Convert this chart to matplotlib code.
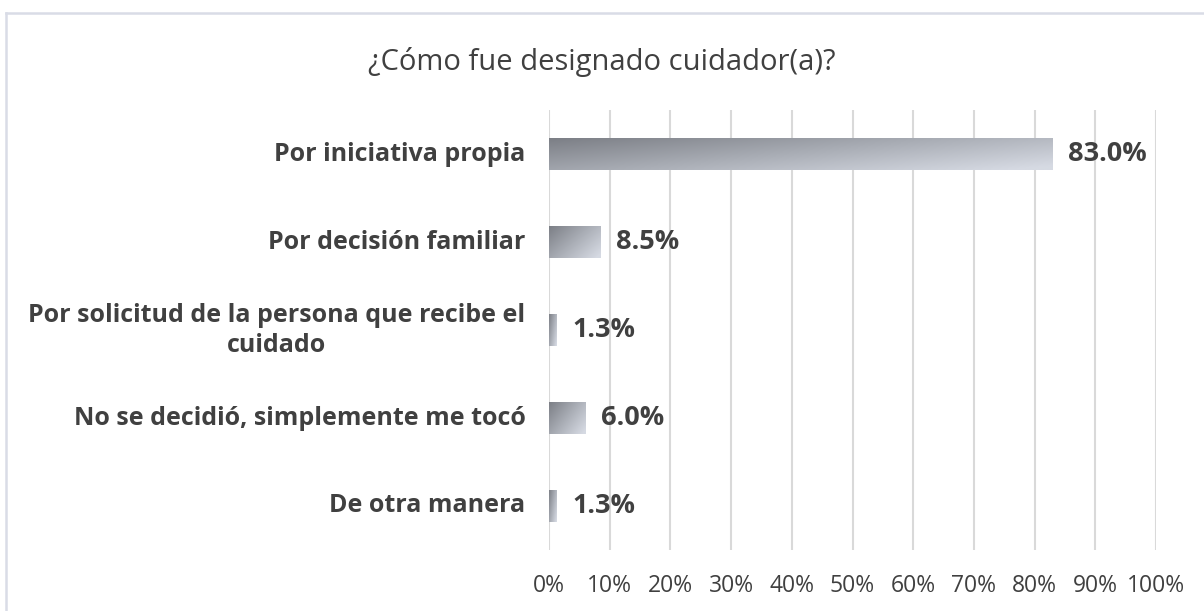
import numpy as np
import matplotlib
matplotlib.use('Agg')
import matplotlib.pyplot as plt
from matplotlib.colors import LinearSegmentedColormap
from matplotlib.lines import Line2D

# data
categories = ['Por iniciativa propia',
              'Por decisión familiar',
              'Por solicitud de la persona que recibe el\ncuidado',
              'No se decidió, simplemente me tocó',
              'De otra manera']
values = [83.0, 8.5, 1.3, 6.0, 1.3]
xticks = [0, 10, 20, 30, 40, 50, 60, 70, 80, 90, 100]
title = '¿Cómo fue designado cuidador(a)?'

plt.rcParams['font.family'] = 'Open Sans'
txt = '#404040'

fig = plt.figure(figsize=(12.04, 6.11), dpi=100)
ax = fig.add_axes([549 / 1204, 61 / 611, 607 / 1204, 440 / 611])

# gray gradient for the bars
cmap = LinearSegmentedColormap.from_list('bargrad', ['#7c7f86', '#a9adb5', '#d6dae3'])
bar_h = 0.36
line_pt = 21.6      # line step for wrapped category labels
ypos = np.arange(len(categories))
gx, gy = np.meshgrid(np.linspace(0, 1, 200), np.linspace(0, 1, 40))

for y, v, cat in zip(ypos, values, categories):
    grad = 0.7 * gx + 0.45 * gy
    ax.imshow(grad, cmap=cmap, vmin=0, vmax=1.1, aspect='auto',
              extent=(0, v, y + bar_h / 2, y - bar_h / 2), origin='upper',
              interpolation='bilinear', zorder=3)
    ax.annotate('%.1f%%' % v, (v, y), xytext=(11, 0), textcoords='offset points',
                va='center', ha='left', fontsize=19.5, fontweight='bold', color=txt)

    # category label: right aligned block, following lines centred under the first
    lines = cat.split('\n')
    shift = line_pt * (len(lines) - 1) / 2
    first = ax.annotate(lines[0], (0, y), xycoords=ax.get_yaxis_transform(),
                        xytext=(-17, shift), textcoords='offset points',
                        ha='right', va='center', fontsize=18, fontweight='bold', color=txt)
    for k, extra in enumerate(lines[1:], start=1):
        ax.annotate(extra, (0.5, 0.5), xycoords=first,
                    xytext=(0, -line_pt * k), textcoords='offset points',
                    ha='center', va='center', fontsize=18, fontweight='bold', color=txt)

ax.set_xlim(0, 100)
ax.set_ylim(len(categories) - 0.5, -0.5)
ax.set_xticks(xticks)
ax.set_xticklabels(['%d%%' % t for t in xticks], fontsize=16.5, color=txt)
ax.set_yticks([])
ax.tick_params(axis='x', length=0, pad=17)
ax.grid(axis='x', color='#d9d9d9', linewidth=1.5, zorder=0)
ax.set_axisbelow(True)
for s in ax.spines.values():
    s.set_visible(False)

fig.text(602 / 1204, 1 - 62 / 611, title, ha='center', va='center', fontsize=21, color=txt)

# outer chart frame
fig.add_artist(Line2D([6 / 1204, 6 / 1204], [0, 1 - 13 / 611], transform=fig.transFigure,
                      color='#d9dce6', linewidth=1.8))
fig.add_artist(Line2D([6 / 1204, 1], [1 - 13 / 611, 1 - 13 / 611], transform=fig.transFigure,
                      color='#d9dce6', linewidth=1.8))

fig.savefig('out.png', dpi=100)
